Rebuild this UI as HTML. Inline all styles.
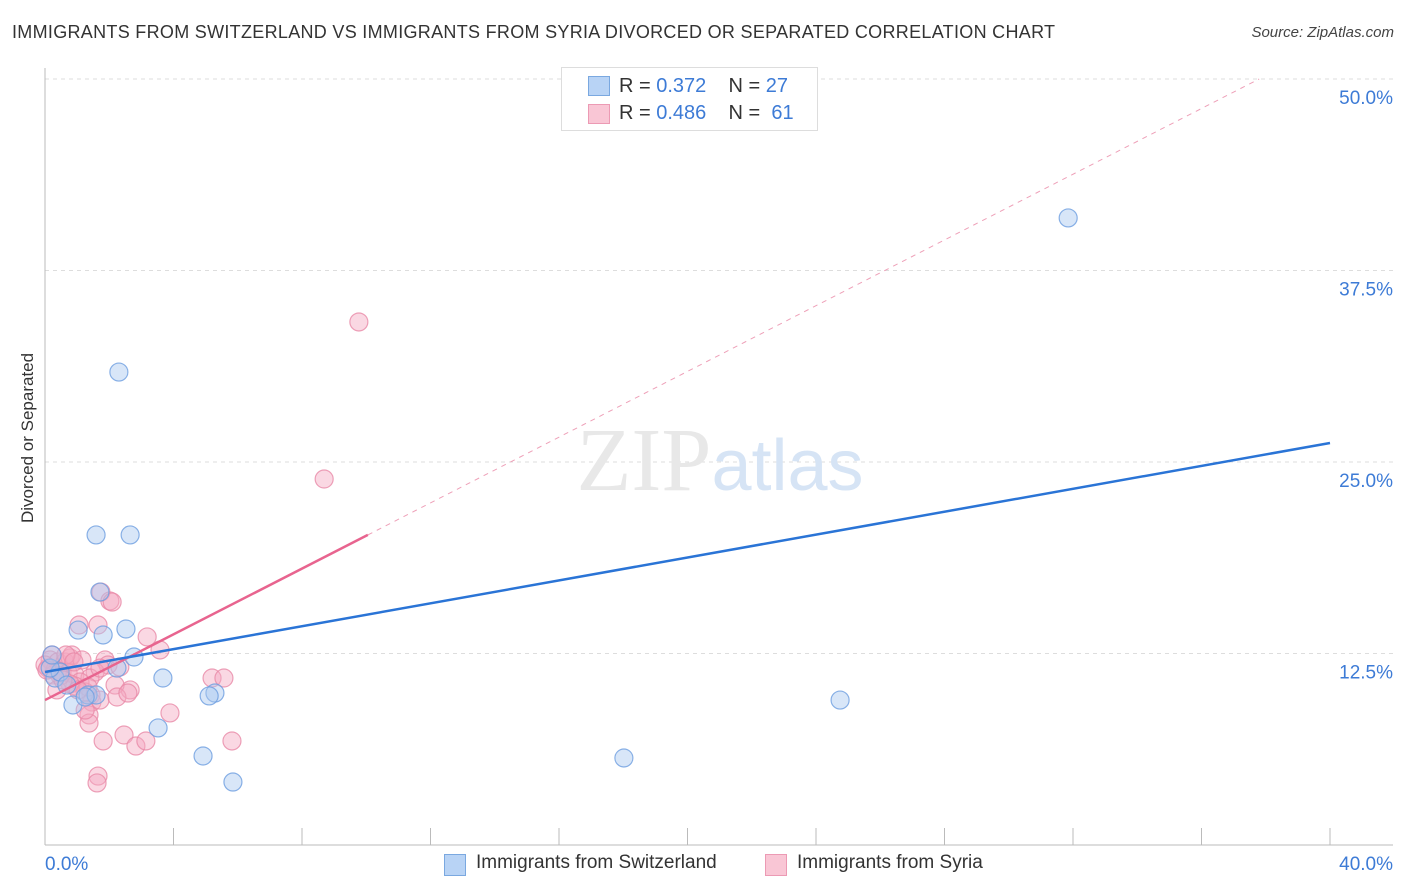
<!DOCTYPE html>
<html><head><meta charset="utf-8"><style>
body{margin:0;background:#fff;font-family:"Liberation Sans",sans-serif}
#wrap{position:relative;width:1406px;height:892px;overflow:hidden}
.t{position:absolute;white-space:nowrap}
</style></head><body>
<div id="wrap">
<div class="t" style="left:12px;top:22px;font-size:18px;color:#333;letter-spacing:0.3px">IMMIGRANTS FROM SWITZERLAND VS IMMIGRANTS FROM SYRIA DIVORCED OR SEPARATED CORRELATION CHART</div>
<div class="t" style="right:12px;top:24px;font-size:15px;color:#444;font-style:italic">Source: ZipAtlas.com</div>
<div class="t" style="left:-40px;top:445px;font-size:17px;color:#333;transform:rotate(-90deg);transform-origin:center;width:136px;text-align:center">Divorced or Separated</div>
<svg id="svg" width="1406" height="892" style="position:absolute;left:0;top:0"></svg>
<div style="position:absolute;left:561px;top:67px;width:255px;height:62px;border:1px solid #ddd;background:#fff;font-size:20px;color:#333">
<div style="position:absolute;left:26px;top:8px;width:20px;height:18px;background:#b8d3f5;border:1px solid #7aa8e0"></div>
<div class="t" style="left:57px;top:7px">R = <span style="color:#3d7bd6">0.372</span>&nbsp;&nbsp;&nbsp; N = <span style="color:#3d7bd6">27</span></div>
<div style="position:absolute;left:26px;top:36px;width:20px;height:18px;background:#f9c6d5;border:1px solid #ec9ab4"></div>
<div class="t" style="left:57px;top:34px">R = <span style="color:#3d7bd6">0.486</span>&nbsp;&nbsp;&nbsp; N = &nbsp;<span style="color:#3d7bd6">61</span></div>
</div>
<div style="position:absolute;left:444px;top:852px;font-size:19px;color:#333">
<div style="position:absolute;left:0;top:2px;width:20px;height:20px;background:#b8d3f5;border:1px solid #7aa8e0"></div>
<div class="t" style="left:32px;top:0">Immigrants from Switzerland</div>
<div style="position:absolute;left:321px;top:2px;width:20px;height:20px;background:#f9c6d5;border:1px solid #ec9ab4"></div>
<div class="t" style="left:353px;top:0">Immigrants from Syria</div>
</div>
</div>
<script>
const blueX=[31.85,2.30,1.59,2.65,1.71,1.03,2.52,1.81,2.77,2.24,3.67,5.29,5.11,0.87,3.52,4.92,5.85,18.02,24.75,1.34,1.59,0.31,0.47,0.16,0.68,1.25,0.22];
const blueY=[40.93,30.87,20.24,20.24,16.51,14.03,14.10,13.71,12.27,11.55,10.90,9.92,9.73,9.14,7.64,5.81,4.11,5.68,9.46,9.79,9.79,10.90,11.29,11.55,10.44,9.66,12.40];
const pinkX=[9.77,8.69,1.74,2.02,2.09,1.06,1.65,3.18,3.58,0.22,0.16,0.40,0.62,0.78,0.84,0.09,0.31,0.53,0.72,0.93,1.15,1.87,1.96,1.56,1.40,1.09,0.93,0.78,0.47,0.25,2.65,2.18,1.43,1.46,1.71,2.24,2.58,5.20,5.57,1.37,1.37,1.81,2.46,2.83,3.14,3.89,5.82,1.65,1.62,0.37,1.25,0.56,0.00,0.06,0.65,0.90,2.33,1.71,1.34,1.03,1.25];
const pinkY=[34.14,23.89,16.51,15.93,15.86,14.36,14.36,13.58,12.73,12.40,12.08,11.95,11.95,12.21,12.40,11.55,11.42,11.29,11.23,11.10,12.08,12.08,11.75,11.29,10.90,10.64,10.38,10.51,11.03,11.10,10.12,10.44,9.79,9.33,9.46,9.66,9.92,10.90,10.90,8.49,7.96,6.79,7.18,6.46,6.79,8.62,6.79,4.50,4.05,10.12,9.99,10.77,11.75,11.42,12.40,11.95,11.62,11.55,10.31,10.12,8.81];
const blueTrend=[11.29,26.24];
const pinkTrend=[9.46,20.24,10.05];
const yTicks=[12.5,25,37.5,50];
const yTickLabels=["12.5%","25.0%","37.5%","50.0%"];
const xTicks=[0,4,8,12,16,20,24,28,32,36,40];
const X=v=>45+v*(1285/40);
const Y=v=>845-v*(191.5/12.5);
const svg=document.getElementById('svg');
const NS='http://www.w3.org/2000/svg';
function mk(tag,attrs){const e=document.createElementNS(NS,tag);for(const k in attrs)e.setAttribute(k,attrs[k]);svg.appendChild(e);return e;}
yTicks.forEach((t,i)=>{
  const g=mk('line',{x1:45,x2:1393,y1:Y(t),y2:Y(t),stroke:'#ddd','stroke-dasharray':'4,4'});
  
  
  const tx=mk('text',{x:1393,y:Y(t)+25,'text-anchor':'end','font-size':19,fill:'#3d7bd6','font-family':'Liberation Sans'});
  tx.textContent=yTickLabels[i];
  
  
});
const wm=mk('text',{x:720,y:490,'text-anchor':'middle','font-size':90,fill:'#e8e8e8','font-family':'Liberation Serif'});
wm.innerHTML='ZIP<tspan fill="#d6e4f5" font-family="Liberation Sans" font-size="72">atlas</tspan>';


const ax1=mk('line',{x1:45,x2:45,y1:68,y2:845,stroke:'#bbb'});


const ax2=mk('line',{x1:45,x2:1393,y1:845,y2:845,stroke:'#bbb'});


xTicks.forEach(t=>{
  const l=mk('line',{x1:X(t),x2:X(t),y1:828,y2:845,stroke:'#bbb'});
  
  
});
const xl0=mk('text',{x:45,y:870,'font-size':19,fill:'#3d7bd6','font-family':'Liberation Sans'});xl0.textContent='0.0%';


const xl1=mk('text',{x:1393,y:870,'text-anchor':'end','font-size':19,fill:'#3d7bd6','font-family':'Liberation Sans'});xl1.textContent='40.0%';


function dots(xs,ys,fill,stroke,name){xs.forEach((x,i)=>{
  const c=mk('circle',{cx:X(x),cy:Y(ys[i]),r:9,fill:fill,'fill-opacity':0.45,stroke:stroke,'stroke-opacity':0.8,'stroke-width':1.2});
  
  
});}
dots(pinkX,pinkY,'#f5a9c0','#e88aa8','syria-point');
dots(blueX,blueY,'#a8c8f0','#6d9ee0','switzerland-point');
const slope=(pinkTrend[1]-pinkTrend[0])/pinkTrend[2];
const xEnd=(50-pinkTrend[0])/slope;
const pd=mk('line',{x1:X(pinkTrend[2]),y1:Y(pinkTrend[1]),x2:X(xEnd),y2:Y(50),stroke:'#eea0b8','stroke-dasharray':'5,5'});


const pl=mk('line',{x1:X(0),y1:Y(pinkTrend[0]),x2:X(pinkTrend[2]),y2:Y(pinkTrend[1]),stroke:'#e8648f','stroke-width':2.5});


const bl=mk('line',{x1:X(0),y1:Y(blueTrend[0]),x2:X(40),y2:Y(blueTrend[1]),stroke:'#2a74d6','stroke-width':2.5});


</script>
</body></html>
